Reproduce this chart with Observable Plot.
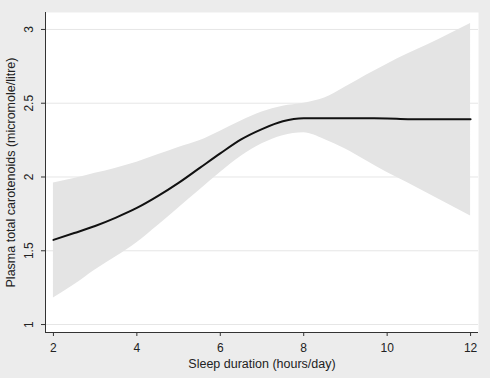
<!DOCTYPE html>
<html><head><meta charset="utf-8">
<script src="https://cdn.jsdelivr.net/npm/d3@7"></script>
<script src="https://cdn.jsdelivr.net/npm/@observablehq/plot@0.6"></script>
<style>
html,body{margin:0;padding:0;background:#ececec;}
#chart svg{display:block;}
</style></head><body><div id="chart"></div>
<script>
const sleepHours = [2, 2.5, 3, 3.5, 4, 4.5, 5, 5.5, 6, 6.5, 7, 7.5, 8, 8.5, 9, 9.5, 10, 10.5, 11, 11.5, 12];
const fitted = [1.574, 1.62, 1.668, 1.725, 1.79, 1.87, 1.96, 2.06, 2.16, 2.255, 2.325, 2.378, 2.398, 2.398, 2.398, 2.398, 2.397, 2.392, 2.392, 2.392, 2.392];
const upper = [1.96, 1.99, 2.025, 2.06, 2.10, 2.15, 2.20, 2.245, 2.31, 2.38, 2.44, 2.48, 2.50, 2.535, 2.61, 2.69, 2.765, 2.835, 2.90, 2.97, 3.04];
const lower = [1.18, 1.27, 1.37, 1.46, 1.555, 1.67, 1.79, 1.91, 2.03, 2.14, 2.225, 2.28, 2.30, 2.255, 2.19, 2.11, 2.03, 1.96, 1.885, 1.81, 1.736];
const xTicks = [2, 4, 6, 8, 10, 12];
const yTicks = [1, 1.5, 2, 2.5, 3];
const xLabel = "Sleep duration (hours/day)";
const yLabel = "Plasma total carotenoids (micromole/litre)";
const xDomain = [1.81, 12.19];
const yDomain = [0.946, 3.115];

const rows = sleepHours.map((x, i) => ({x, fit: fitted[i], lo: lower[i], hi: upper[i]}));

const chart = Plot.plot({
  width: 490, height: 378,
  marginLeft: 45, marginRight: 12, marginTop: 12, marginBottom: 46,
  style: {background: "#ececec", fontFamily: "'Liberation Sans', Arial, sans-serif", fontSize: "12px", color: "#222"},
  x: {domain: xDomain},
  y: {domain: yDomain},
  marks: [
    Plot.frame({fill: "white", stroke: "none"}),
    Plot.gridY(yTicks, {stroke: "#e6e6e6", strokeOpacity: 1}),
    Plot.areaY(rows, {x: "x", y1: "lo", y2: "hi", fill: "#e4e4e4", curve: "monotone-x"}),
    Plot.line(rows, {x: "x", y: "fit", stroke: "#111", strokeWidth: 2, curve: "monotone-x"}),
    Plot.ruleY([yDomain[0]], {stroke: "#333"}),
    Plot.ruleX([xDomain[0]], {stroke: "#333"}),
    Plot.axisX(xTicks, {tickSize: 4, tickPadding: 7, label: null, stroke: "#333", fill: "#222", fontSize: 12}),
    Plot.axisY(yTicks, {tickSize: 4, tickPadding: 9, tickRotate: -90, tickFormat: d => String(d), label: null, stroke: "#333", fill: "#222", fontSize: 12}),
    Plot.text([xLabel], {frameAnchor: "bottom", dy: 31, lineAnchor: "middle", textAnchor: "middle", text: d => d, fontSize: 12.5, fill: "#222"}),
    Plot.text([yLabel], {frameAnchor: "left", dx: -35, rotate: -90, lineAnchor: "middle", textAnchor: "middle", text: d => d, fontSize: 12.5, fill: "#222"})
  ]
});
document.getElementById("chart").append(chart);
</script></body></html>
